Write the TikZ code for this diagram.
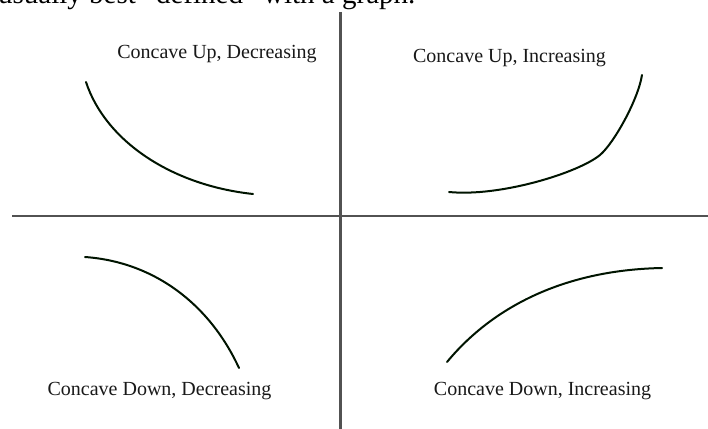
\documentclass[tikz,border=0pt]{standalone}
\usepackage{fontspec}
\setmainfont{Liberation Serif}
\begin{document}
\begin{tikzpicture}[x=1pt,y=-1pt,
  axisline/.style={draw=black!68, line width=2.2pt},
  crv/.style={draw=black!80!green!40!black, line width=2pt, line cap=round},
  lbl/.style={inner sep=0pt, anchor=base, font=\fontsize{20}{24}\selectfont, text=black!90}]
\useasboundingbox (0,0) rectangle (708,428);
\fill[white] (0,0) rectangle (708,428);
% cropped heading text
\node[inner sep=0pt, anchor=base west, font=\fontsize{29}{34}\selectfont] (head) at (-2,4) {usually best “defined” with a graph.};
% axes
\coordinate (vtop) at (340.5,12);
\coordinate (vbot) at (340.5,430);
\coordinate (hl) at (12,216);
\coordinate (hr) at (710,216);
\draw[axisline] (vtop) -- (vbot);
\draw[axisline] (hl) -- (hr);
% curves
\draw[crv] (86,82) .. controls (105,140) and (170,185) .. (253,194);
\draw[crv] (449,192) .. controls (500,197) and (578,173) .. (600,155)
           .. controls (614,143) and (638,100) .. (642,75);
\draw[crv] (85,257) .. controls (155,262) and (210,305) .. (239,368);
\draw[crv] (447,362) .. controls (490,310) and (560,270) .. (662,268);
% labels
\node[lbl] (ul) at (217,59) {Concave Up, Decreasing};
\node[lbl] (ur) at (509.5,63) {Concave Up, Increasing};
\node[lbl] (ll) at (159.5,395.5) {Concave Down, Decreasing};
\node[lbl] (lr) at (542.5,395.5) {Concave Down, Increasing};
\end{tikzpicture}
\end{document}
